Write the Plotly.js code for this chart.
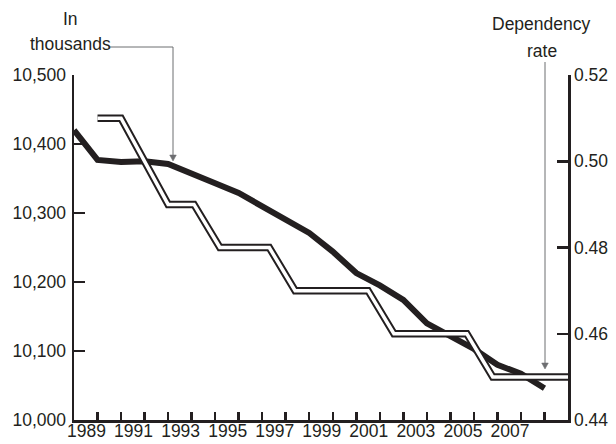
<!DOCTYPE html>
<html>
<head>
<meta charset="utf-8">
<script src="https://cdn.plot.ly/plotly-3.0.1.min.js"></script>
<style>
  html, body { margin: 0; padding: 0; background: #fff; }
  #chart { width: 616px; height: 444px; }
</style>
</head>
<body>
<div id="chart"></div>
<script>
// ---- Data ----
const years = [1988, 1989, 1990, 1991, 1992, 1993, 1994, 1995, 1996, 1997, 1998,
               1999, 2000, 2001, 2002, 2003, 2004, 2005, 2006, 2007, 2008];
const populationThousands = [10420, 10377, 10374, 10375, 10371, 10356, 10343, 10329, 10310, 10290, 10271,
                             10244, 10213, 10195, 10174, 10140, 10121, 10103, 10080, 10067, 10046];

const rateYears = [1989, 1990, 1992, 1993.1, 1994.2, 1996.3, 1997.4, 2000.5, 2001.6, 2004.7, 2005.8, 2009];
const dependencyRate = [0.51, 0.51, 0.49, 0.49, 0.48, 0.48, 0.47, 0.47, 0.46, 0.46, 0.45, 0.45];

const tickYears = [1989, 1990, 1991, 1992, 1993, 1994, 1995, 1996, 1997, 1998,
                   1999, 2000, 2001, 2002, 2003, 2004, 2005, 2006, 2007, 2008];
const tickYearLabels = ['1989', '', '1991', '', '1993', '', '1995', '', '1997', '',
                        '1999', '', '2001', '', '2003', '', '2005', '', '2007', ''];
const leftTicks = [10000, 10100, 10200, 10300, 10400, 10500];
const rightTicks = [0.44, 0.46, 0.48, 0.50, 0.52];

// ---- Style ----
const INK = '#231f20';
const GREY = '#6d6e71';
const FONT = "'Liberation Sans', Arial, sans-serif";
const FS = 17.5;

const W = 616, H = 444;
const M = {l: 74, r: 48, t: 75, b: 24};
const PW = W - M.l - M.r, PH = H - M.t - M.b;
// pixel -> paper helpers (for annotation callouts only)
const px = x => (x - M.l) / PW;
const py = y => (H - M.b - y) / PH;

const traces = [
  { x: rateYears, y: dependencyRate, yaxis: 'y2', mode: 'lines',
    line: {color: INK, width: 7.5}, hoverinfo: 'skip', showlegend: false },
  { x: rateYears, y: dependencyRate, yaxis: 'y2', mode: 'lines',
    line: {color: '#ffffff', width: 3.5}, hoverinfo: 'skip', showlegend: false },
  { x: years, y: populationThousands, yaxis: 'y', mode: 'lines',
    line: {color: INK, width: 6}, hoverinfo: 'skip', showlegend: false }
];

const callout = {type: 'path', xref: 'paper', yref: 'paper', line: {color: GREY, width: 1}};
const head = (x, y) => ({
  type: 'path', xref: 'paper', yref: 'paper', fillcolor: GREY, line: {color: GREY, width: 0.5},
  path: `M${px(x)},${py(y)} L${px(x - 3.3)},${py(y - 6)} L${px(x + 3.3)},${py(y - 6)} Z`
});

const layout = {
  width: W, height: H,
  margin: M,
  paper_bgcolor: '#fff', plot_bgcolor: '#fff',
  font: {family: FONT, size: FS, color: INK},
  showlegend: false,
  xaxis: {
    range: [1988, 2009], showgrid: false, zeroline: false,
    showline: true, linecolor: INK, linewidth: 2.5,
    tickmode: 'array', tickvals: tickYears, ticktext: tickYearLabels,
    ticks: 'inside', ticklen: 8, tickwidth: 2.5, tickcolor: INK,
    ticklabelshift: -11, ticklabelstandoff: -7,
    tickfont: {family: FONT, size: FS, color: INK}
  },
  yaxis: {
    range: [10000, 10500], showgrid: false, zeroline: false,
    showline: true, linecolor: INK, linewidth: 2.5,
    tickmode: 'array', tickvals: leftTicks, tickformat: ',d',
    ticks: 'inside', ticklen: 11, tickwidth: 2.5, tickcolor: INK,
    ticklabelstandoff: 2,
    tickfont: {family: FONT, size: FS, color: INK}
  },
  yaxis2: {
    range: [0.44, 0.52], overlaying: 'y', side: 'right',
    showgrid: false, zeroline: false,
    showline: true, linecolor: INK, linewidth: 2.5,
    tickmode: 'array', tickvals: rightTicks, tickformat: '.2f',
    ticks: 'inside', ticklen: 11, tickwidth: 2.5, tickcolor: INK,
    tickfont: {family: FONT, size: FS, color: INK}
  },
  shapes: [
    Object.assign({}, callout, {path: `M${px(108)},${py(47)} L${px(173)},${py(47)} L${px(173)},${py(155)}`}),
    head(173, 161),
    Object.assign({}, callout, {path: `M${px(545)},${py(62)} L${px(545)},${py(363)}`}),
    head(545, 369)
  ],
  annotations: [
    {text: 'In', xref: 'paper', yref: 'paper', x: px(70), y: py(19), xanchor: 'center', yanchor: 'middle', showarrow: false},
    {text: 'thousands', xref: 'paper', yref: 'paper', x: px(70), y: py(44), xanchor: 'center', yanchor: 'middle', showarrow: false},
    {text: 'Dependency', xref: 'paper', yref: 'paper', x: px(541), y: py(24), xanchor: 'center', yanchor: 'middle', showarrow: false},
    {text: 'rate', xref: 'paper', yref: 'paper', x: px(542), y: py(51), xanchor: 'center', yanchor: 'middle', showarrow: false}
  ]
};

Plotly.newPlot('chart', traces, layout, {staticPlot: true, displayModeBar: false});
</script>
</body>
</html>
